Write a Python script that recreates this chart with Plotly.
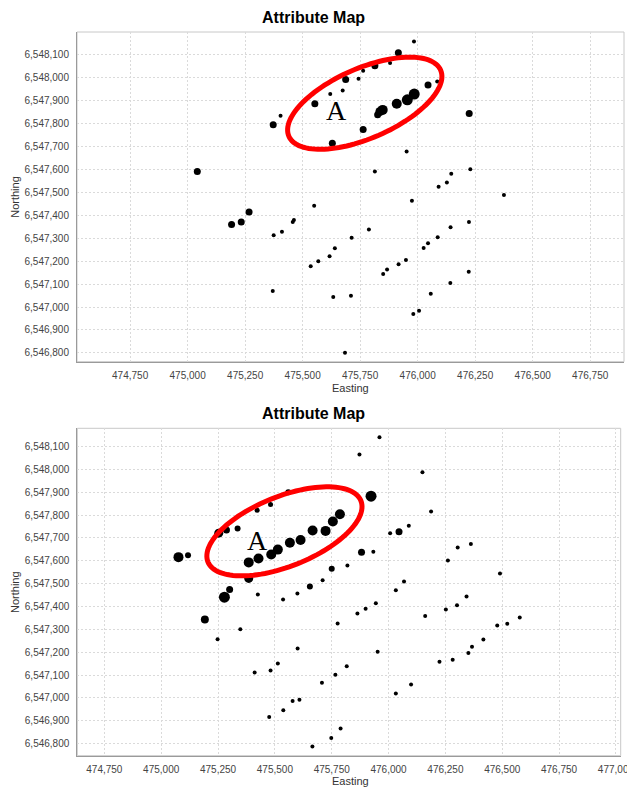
import numpy as np
import plotly.graph_objects as go

# ---------------- data: top map ----------------
top_easting = [475553, 475404, 475372, 475042, 475984, 475916, 475814, 475880, 475763, 475687,
               475743, 475674, 475620, 476045, 476085, 475985, 475955, 475909, 475848, 475836,
               475826, 475763, 475629, 476224, 475952, 475814, 476229, 476146, 476127, 476091,
               476375, 475191, 475233, 475267, 475374, 475410, 475457, 475462, 475550, 475370,
               475535, 475568, 475975, 476223, 476143, 475788, 475713, 476087, 476045, 476026,
               475640, 475617, 475949, 475917, 475867, 475850, 476222, 476142, 476057, 475633,
               475710, 476006, 475981, 475684]
top_northing = [6547885, 6547832, 6547793, 6547590, 6548156, 6548107, 6548050, 6548062, 6548028, 6547990,
                6547993, 6547942, 6547927, 6547966, 6547982, 6547927, 6547902, 6547885, 6547858, 6547851,
                6547837, 6547773, 6547713, 6547842, 6547677, 6547590, 6547600, 6547580, 6547542, 6547523,
                6547488, 6547359, 6547370, 6547414, 6547312, 6547328, 6547370, 6547379, 6547441, 6547070,
                6547177, 6547199, 6547463, 6547370, 6547347, 6547337, 6547301, 6547304, 6547278, 6547257,
                6547256, 6547221, 6547205, 6547186, 6547163, 6547144, 6547153, 6547105, 6547058, 6547044,
                6547049, 6546984, 6546970, 6546801]
top_attr = [7, 4, 7, 7, 4, 7, 7, 4, 4, 7,
            4, 4, 4, 7, 4, 11, 11, 10, 10, 9,
            7, 7, 7, 7, 4, 4, 4, 4, 4, 4,
            4, 7, 7, 7, 4, 4, 4, 4, 4, 4,
            4, 4, 4, 4, 4, 4, 4, 4, 4, 4,
            4, 4, 4, 4, 4, 4, 4, 4, 4, 4,
            4, 4, 4, 4]

# ---------------- data: bottom map ----------------
bot_easting = [475076, 475118, 475253, 475287, 475336, 475422, 475481, 475559, 475385, 475428,
               475484, 475513, 475566, 475613, 475666, 475723, 475755, 475786, 475923, 475385,
               475654, 475960, 475872, 476149, 476187, 476007, 476046, 476089, 475881, 475933,
               476304, 476362, 476261, 475750, 475819, 476490, 475710, 476068, 476032, 475301,
               475278, 475192, 475425, 475536, 475599, 475348, 475248, 475600, 475513, 475411,
               475481, 475578, 475608, 475537, 475475, 475665, 476343, 476301, 476252, 476161,
               475944, 475899, 475863, 475776, 476577, 476522, 476478, 476417, 476367, 476351,
               476282, 476224, 475952, 475816, 475766, 475707, 476099, 476032, 475789, 475748]
bot_northing = [6547616, 6547624, 6547721, 6547735, 6547741, 6547821, 6547846, 6547900, 6547593, 6547610,
                6547628, 6547649, 6547679, 6547691, 6547733, 6547731, 6547772, 6547804, 6547883, 6547523,
                6547488, 6548141, 6548065, 6547988, 6547816, 6547721, 6547727, 6547753, 6547638, 6547640,
                6547658, 6547674, 6547601, 6547565, 6547579, 6547544, 6547515, 6547509, 6547471, 6547474,
                6547441, 6547343, 6547453, 6547431, 6547457, 6547301, 6547257, 6547216, 6547151, 6547111,
                6547120, 6546986, 6546992, 6546946, 6546916, 6546787, 6547444, 6547406, 6547387, 6547358,
                6547414, 6547390, 6547369, 6547326, 6547352, 6547324, 6547317, 6547256, 6547224, 6547197,
                6547167, 6547158, 6547202, 6547139, 6547101, 6547066, 6547059, 6547019, 6546866, 6546825]
bot_attr = [10, 6, 9, 7, 6, 5, 5, 6, 10, 10,
            10, 10, 10, 10, 10, 10, 10, 10, 11, 9,
            6, 4, 4, 4, 4, 4, 7, 4, 7, 4,
            4, 4, 4, 6, 4, 4, 4, 4, 4, 7,
            11, 8, 4, 4, 4, 4, 4, 4, 4, 4,
            4, 4, 4, 4, 4, 4, 4, 4, 4, 4,
            4, 4, 4, 4, 4, 4, 4, 4, 4, 4,
            4, 4, 4, 4, 4, 4, 4, 4, 4, 4]

chart_title = "Attribute Map"
x_title = "Easting"
y_title = "Northing"
label_text = "A"

# annotation ellipses: (center_e, center_n, semi_major, semi_minor, angle_deg)
top_ellipse = (475770, 6547887, 360, 152, 23.6)
bot_ellipse = (475542, 6547729, 362, 153, 21.6)
top_label_pos = (475645, 6547854)
bot_label_pos = (475422, 6547689)

W, H = 627, 792


def ellipse_path(cx, cy, a, b, ang):
    t = np.linspace(0, 2 * np.pi, 121)
    th = np.radians(ang)
    xs = cx + a * np.cos(t) * np.cos(th) - b * np.sin(t) * np.sin(th)
    ys = cy + a * np.cos(t) * np.sin(th) + b * np.sin(t) * np.cos(th)
    return "M " + " L ".join(f"{x:.1f},{y:.1f}" for x, y in zip(xs, ys)) + " Z"


fig = go.Figure()
fig.add_trace(go.Scatter(x=top_easting, y=top_northing, mode="markers",
                         marker=dict(color="black", size=top_attr, opacity=1, line=dict(width=0)),
                         xaxis="x", yaxis="y", showlegend=False, hoverinfo="x+y"))
fig.add_trace(go.Scatter(x=bot_easting, y=bot_northing, mode="markers",
                         marker=dict(color="black", size=bot_attr, opacity=1, line=dict(width=0)),
                         xaxis="x2", yaxis="y2", showlegend=False, hoverinfo="x+y"))

tickfont = dict(family="Liberation Sans, Arial, sans-serif", size=10, color="#444444")
common_x = dict(tickmode="linear", dtick=250, tickformat=",d", showgrid=True,
                gridcolor="#dadada", griddash="2px,2px", gridwidth=1, zeroline=False,
                showline=True, linecolor="#9a9a9a", linewidth=1, ticks="",
                tickfont=tickfont, ticklabelstandoff=4, automargin=False,
                ticklabeloverflow="allow")
common_y = dict(tickmode="linear", dtick=100, tickformat=",d", showgrid=True,
                gridcolor="#dadada", griddash="2px,2px", gridwidth=1, zeroline=False,
                showline=True, linecolor="#9a9a9a", linewidth=1, ticks="",
                tickfont=tickfont, ticklabelstandoff=5, automargin=False,
                ticklabeloverflow="allow")

top_dom_x = [77 / W, 624 / W]
top_dom_y = [1 - 361.7 / H, 1 - 32 / H]
bot_dom_x = [77.3 / W, 620.7 / W]
bot_dom_y = [1 - 755.7 / H, 1 - 428.3 / H]

fig.update_layout(
    width=W, height=H,
    margin=dict(l=0, r=0, t=0, b=0, autoexpand=False),
    paper_bgcolor="white", plot_bgcolor="white",
    xaxis=dict(common_x, domain=top_dom_x, range=[474519, 476897], anchor="y"),
    yaxis=dict(common_y, domain=top_dom_y, range=[6546762, 6548197], anchor="x"),
    xaxis2=dict(common_x, domain=bot_dom_x, range=[474631, 477021], anchor="y2"),
    yaxis2=dict(common_y, domain=bot_dom_y, range=[6546747, 6548180], anchor="x2"),
)

shapes = []
for dx, dy in ((top_dom_x, top_dom_y), (bot_dom_x, bot_dom_y)):
    shapes.append(dict(type="rect", xref="paper", yref="paper", x0=dx[0], x1=dx[1],
                       y0=dy[0], y1=dy[1], line=dict(color="#c8c8c8", width=1),
                       layer="below"))
shapes.append(dict(type="path", xref="x", yref="y", path=ellipse_path(*top_ellipse),
                   line=dict(color="#ff0000", width=5)))
shapes.append(dict(type="path", xref="x2", yref="y2", path=ellipse_path(*bot_ellipse),
                   line=dict(color="#ff0000", width=5)))
fig.update_layout(shapes=shapes)

ann = []
title_font = dict(family="Liberation Sans, Arial, sans-serif", size=16, color="black")
axis_font = dict(family="Liberation Sans, Arial, sans-serif", size=11, color="#333333")
for ty, xy, ny in ((17.5, 388, 196.8), (413.5, 780.5, 592)):
    ann.append(dict(text=f"<b>{chart_title}</b>", x=0.5, y=1 - ty / H, xref="paper", yref="paper",
                    showarrow=False, font=title_font, xanchor="center", yanchor="middle"))
    ann.append(dict(text=x_title, x=350 / W, y=1 - xy / H, xref="paper", yref="paper",
                    showarrow=False, font=axis_font, xanchor="center", yanchor="middle"))
    ann.append(dict(text=y_title, x=15 / W, y=1 - ny / H, xref="paper", yref="paper",
                    showarrow=False, font=axis_font, xanchor="center", yanchor="middle",
                    textangle=-90))
ann.append(dict(text=label_text, x=top_label_pos[0], y=top_label_pos[1], xref="x", yref="y",
                showarrow=False, font=dict(family="Liberation Serif, Times New Roman, serif",
                                           size=28, color="black")))
ann.append(dict(text=label_text, x=bot_label_pos[0], y=bot_label_pos[1], xref="x2", yref="y2",
                showarrow=False, font=dict(family="Liberation Serif, Times New Roman, serif",
                                           size=28, color="black")))
fig.update_layout(annotations=ann)

fig.write_html("out.html", config={"displayModeBar": False},
               post_script="document.body.style.margin='0';document.body.style.overflow='hidden';")
